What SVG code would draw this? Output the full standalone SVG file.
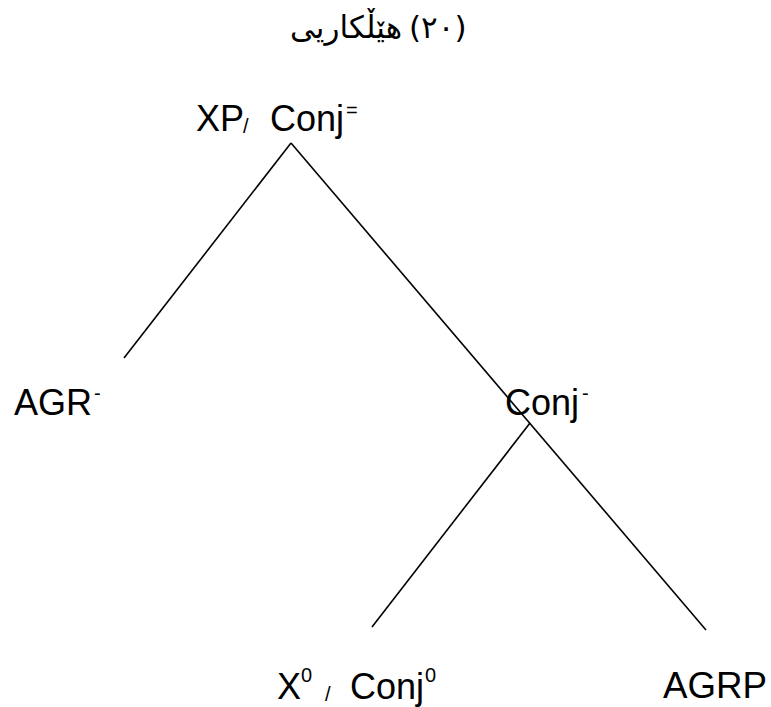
<svg xmlns="http://www.w3.org/2000/svg" width="771" height="707" viewBox="0 0 771 707">
<style>
.t{font-family:"Liberation Sans",Arial,sans-serif;font-size:36px;fill:#000}
.s{font-family:"Liberation Sans",Arial,sans-serif;font-size:20px;fill:#000}
.ar{font-family:"DejaVu Sans","Noto Sans",sans-serif;font-size:31px;fill:#000}
.e{stroke:#000;stroke-width:1.6;fill:none}
</style>
<rect width="771" height="707" fill="#fff"/>
<g id="title">
<text class="ar" x="402" y="38" text-anchor="end">هێڵکاریی</text>
<text class="ar" x="409" y="38" font-size="24">(٢٠)</text>
</g>
<g id="connectors">
<line class="e" x1="291" y1="143" x2="124" y2="358"/>
<line class="e" x1="291" y1="143" x2="706" y2="630"/>
<line class="e" x1="530" y1="423" x2="372" y2="627"/>
</g>
<g id="node-xp">
<text class="t" x="196" y="131">XP</text>
<text class="s" x="243" y="133">/</text>
<text class="t" x="270" y="131">Conj</text>
<text class="s" x="346" y="117">=</text>
</g>
<g id="node-agr">
<text class="t" x="14" y="415">AGR</text>
<text class="s" x="94" y="400">-</text>
</g>
<g id="node-conj">
<text class="t" x="505" y="415">Conj</text>
<text class="s" x="582" y="400">-</text>
</g>
<g id="node-x0">
<text class="t" x="277" y="699">X</text>
<text class="s" x="301" y="682">0</text>
<text class="s" x="325" y="701">/</text>
<text class="t" x="350" y="699">Conj</text>
<text class="s" x="425" y="682">0</text>
</g>
<g id="node-agrp">
<text class="t" x="663" y="698" textLength="104" lengthAdjust="spacingAndGlyphs">AGRP</text>
</g>
</svg>
